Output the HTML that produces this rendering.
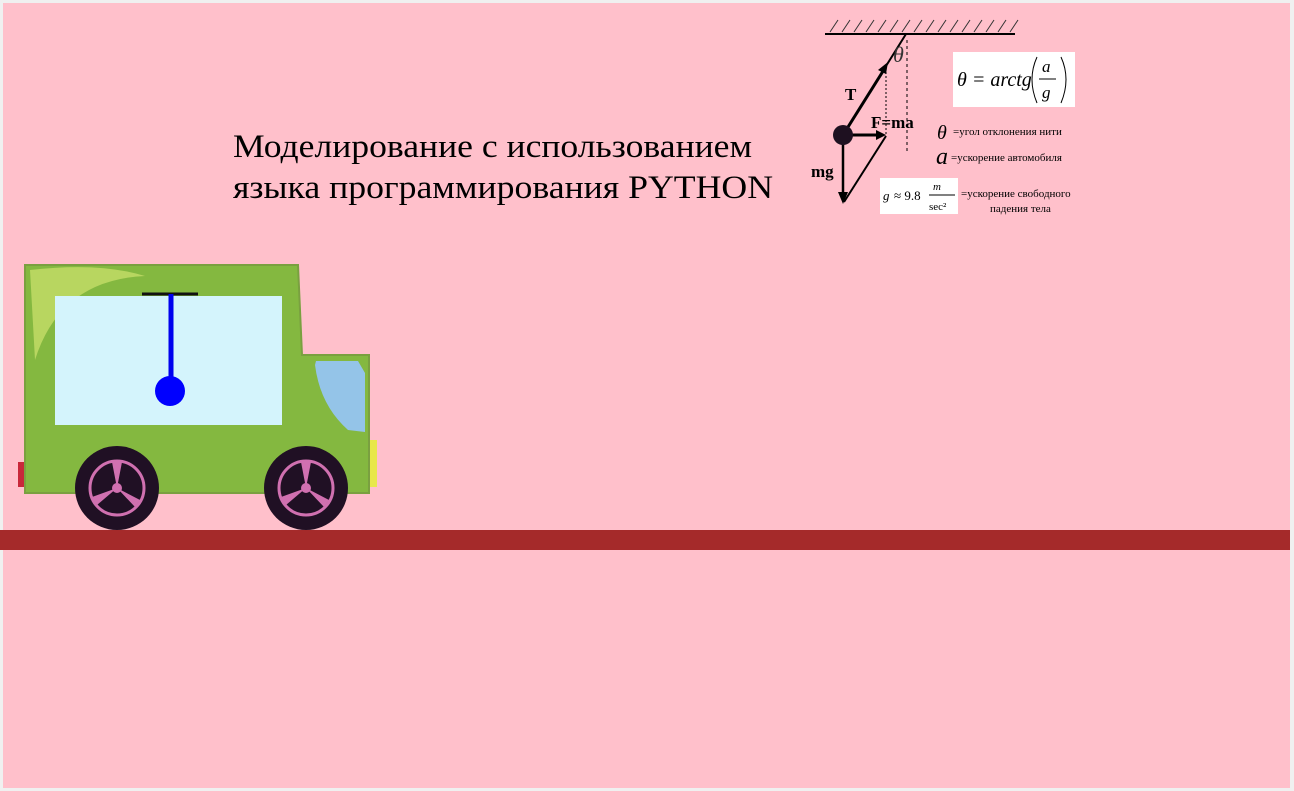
<!DOCTYPE html>
<html><head><meta charset="utf-8"><style>
html,body{margin:0;padding:0;background:#f0f0f0;}
svg{display:block}
text{font-family:"Liberation Serif",serif;}
</style></head><body>
<svg width="1294" height="791" xmlns="http://www.w3.org/2000/svg">
<rect x="0" y="0" width="1294" height="791" fill="#f0f0f0"/>
<rect x="3" y="3" width="1287" height="785" fill="#ffc0cb"/>
<text x="233" y="157" font-size="33" textLength="519" lengthAdjust="spacingAndGlyphs" fill="#000">Моделирование с использованием</text>
<text x="233" y="198" font-size="33" textLength="540" lengthAdjust="spacingAndGlyphs" fill="#000">языка программирования PYTHON</text>

<g>
<line x1="825" y1="34" x2="1015" y2="34" stroke="#000" stroke-width="2"/>
<g stroke="#333" stroke-width="1">
<line x1="830" y1="32" x2="838" y2="20"/><line x1="842" y1="32" x2="850" y2="20"/><line x1="854" y1="32" x2="862" y2="20"/><line x1="866" y1="32" x2="874" y2="20"/><line x1="878" y1="32" x2="886" y2="20"/><line x1="890" y1="32" x2="898" y2="20"/><line x1="902" y1="32" x2="910" y2="20"/><line x1="914" y1="32" x2="922" y2="20"/><line x1="926" y1="32" x2="934" y2="20"/><line x1="938" y1="32" x2="946" y2="20"/><line x1="950" y1="32" x2="958" y2="20"/><line x1="962" y1="32" x2="970" y2="20"/><line x1="974" y1="32" x2="982" y2="20"/><line x1="986" y1="32" x2="994" y2="20"/><line x1="998" y1="32" x2="1006" y2="20"/><line x1="1010" y1="32" x2="1018" y2="20"/>
</g>
<line x1="906" y1="34" x2="843" y2="135" stroke="#000" stroke-width="2"/>
<line x1="843" y1="135" x2="885" y2="68" stroke="#000" stroke-width="3"/>
<polygon points="888,62 878,70 886,74" fill="#000"/>
<line x1="907" y1="40" x2="907" y2="152" stroke="#000" stroke-dasharray="3,3"/>
<line x1="886" y1="68" x2="886" y2="135" stroke="#000" stroke-dasharray="2,2"/>
<line x1="848" y1="135" x2="878" y2="135" stroke="#000" stroke-width="3"/>
<polygon points="886,135 876,130 876,140" fill="#000"/>
<line x1="843" y1="135" x2="843" y2="196" stroke="#000" stroke-width="2.5"/>
<polygon points="843,204 838,192 848,192" fill="#000"/>
<line x1="844" y1="202" x2="886" y2="136" stroke="#000" stroke-width="2"/>
<circle cx="843" cy="135" r="10" fill="#1e1020"/>
<text x="893" y="62" font-size="22" font-style="italic" fill="#333">θ</text>
<text x="845" y="100" font-size="17" font-weight="bold">T</text>
<text x="871" y="128" font-size="17" font-weight="bold">F=ma</text>
<text x="811" y="177" font-size="17" font-weight="bold">mg</text>
<rect x="953" y="52" width="122" height="55" fill="#fff"/>
<text x="957" y="86" font-size="20" font-style="italic">θ = arctg</text>
<text x="1042" y="72" font-size="17" font-style="italic">a</text>
<line x1="1039" y1="79" x2="1056" y2="79" stroke="#000"/>
<text x="1042" y="98" font-size="17" font-style="italic">g</text>
<path d="M1037,57 Q1027,79 1037,103" fill="none" stroke="#000"/>
<path d="M1061,57 Q1071,79 1061,103" fill="none" stroke="#000"/>
<text x="937" y="139" font-size="20" font-style="italic">θ</text>
<text x="953" y="135" font-size="11">=угол отклонения нити</text>
<text x="936" y="164" font-size="24" font-style="italic">a</text>
<text x="951" y="161" font-size="11">=ускорение автомобиля</text>
<rect x="880" y="178" width="78" height="36" fill="#fff"/>
<text x="883" y="200" font-size="13" font-style="italic">g</text>
<text x="894" y="200" font-size="13">≈ 9.8</text>
<text x="933" y="190" font-size="11" font-style="italic">m</text>
<line x1="929" y1="195" x2="955" y2="195" stroke="#000"/>
<text x="929" y="210" font-size="11">sec²</text>
<text x="961" y="197" font-size="11">=ускорение свободного</text>
<text x="990" y="212" font-size="11">падения тела</text>
</g>

<g>
<rect x="18" y="462" width="6" height="25" fill="#c8283a"/>
<rect x="369" y="440" width="8" height="47" fill="#e8e84a"/>
<path d="M25,265 L298,265 L302,355 L369,355 L369,493 L25,493 Z" fill="#84b840" stroke="#7aa040" stroke-width="2"/>
<path d="M30,270 Q100,262 145,276 Q60,280 35,360 Z" fill="#b8d660"/>
<rect x="55" y="296" width="227" height="129" fill="#d4f4fc"/>
<path d="M316,361 L358,361 L365,373 L365,432 L348,430 Q320,405 315,365 Z" fill="#94c4e8"/>
<line x1="142" y1="294" x2="198" y2="294" stroke="#111" stroke-width="3"/>
<line x1="171" y1="294" x2="171" y2="380" stroke="#0000ee" stroke-width="5"/>
<circle cx="170" cy="391" r="15" fill="#0000ff"/>
<g>
<circle cx="117" cy="488" r="42" fill="#201024"/>
<circle cx="117" cy="488" r="27" fill="none" stroke="#d070b0" stroke-width="3"/>
<path d="M117,488 L112,462 L122,462 Z M117,488 L92,497 L97,505 Z M117,488 L140,500 L135,507 Z" fill="#d070b0"/>
<circle cx="117" cy="488" r="5" fill="#d070b0"/>
</g>
<g>
<circle cx="306" cy="488" r="42" fill="#201024"/>
<circle cx="306" cy="488" r="27" fill="none" stroke="#d070b0" stroke-width="3"/>
<path d="M306,488 L301,462 L311,462 Z M306,488 L281,497 L286,505 Z M306,488 L329,500 L324,507 Z" fill="#d070b0"/>
<circle cx="306" cy="488" r="5" fill="#d070b0"/>
</g>
</g>
<rect x="0" y="530" width="1290" height="20" fill="#a52a2a"/>
</svg>
</body></html>
